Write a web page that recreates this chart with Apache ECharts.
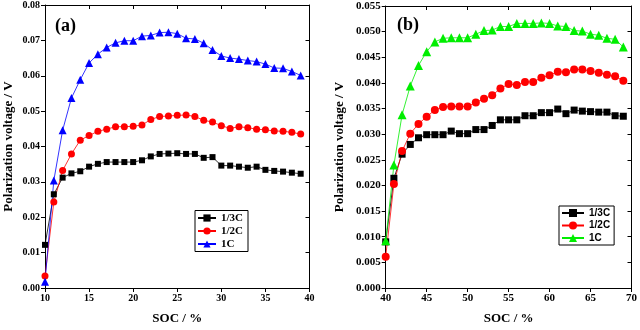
<!DOCTYPE html>
<html><head><meta charset="utf-8">
<script src="https://cdn.jsdelivr.net/npm/echarts@6/dist/echarts.min.js"></script>
<style>html,body{margin:0;padding:0;background:#fff}#c{width:640px;height:330px}</style>
</head><body><div id="c"></div>
<script>
const socA = [10,11,12,13,14,15,16,17,18,19,20,21,22,23,24,25,26,27,28,29,30,31,32,33,34,35,36,37,38,39];
const a13 = [0.0122,0.0265,0.0312,0.0324,0.0330,0.0343,0.0351,0.0356,0.0356,0.0356,0.0356,0.0361,0.0372,0.0379,0.0380,0.0381,0.0379,0.0379,0.0368,0.0370,0.0346,0.0346,0.0343,0.0340,0.0343,0.0334,0.0331,0.0329,0.0326,0.0323];
const a12 = [0.0034,0.0243,0.0332,0.0379,0.0418,0.0431,0.0443,0.0449,0.0456,0.0456,0.0457,0.0461,0.0476,0.0485,0.0486,0.0488,0.0489,0.0485,0.0474,0.0469,0.0459,0.0451,0.0456,0.0453,0.0449,0.0447,0.0444,0.0443,0.0440,0.0435];
const a1 = [0.0018,0.0304,0.0446,0.0537,0.0589,0.0636,0.0661,0.0680,0.0693,0.0699,0.0699,0.0712,0.0714,0.0722,0.0723,0.0719,0.0706,0.0704,0.0692,0.0673,0.0656,0.0650,0.0647,0.0643,0.0640,0.0633,0.0622,0.0621,0.0612,0.0601];
const socB = [40,41,42,43,44,45,46,47,48,49,50,51,52,53,54,55,56,57,58,59,60,61,62,63,64,65,66,67,68,69];
const b13 = [0.0090,0.0214,0.0261,0.0280,0.0293,0.0299,0.0299,0.0299,0.0306,0.0301,0.0301,0.0309,0.0309,0.0317,0.0328,0.0328,0.0328,0.0336,0.0336,0.0342,0.0342,0.0349,0.0340,0.0347,0.0345,0.0344,0.0343,0.0343,0.0336,0.0335];
const b12 = [0.0061,0.0203,0.0267,0.0301,0.0320,0.0334,0.0347,0.0353,0.0354,0.0354,0.0354,0.0362,0.0369,0.0376,0.0389,0.0398,0.0396,0.0402,0.0402,0.0410,0.0415,0.0422,0.0421,0.0426,0.0426,0.0423,0.0420,0.0416,0.0413,0.0404];
const b1 = [0.0092,0.0240,0.0338,0.0394,0.0434,0.0461,0.0480,0.0487,0.0488,0.0488,0.0488,0.0495,0.0502,0.0503,0.0510,0.0510,0.0516,0.0516,0.0516,0.0517,0.0516,0.0511,0.0510,0.0502,0.0501,0.0495,0.0493,0.0487,0.0485,0.0470];
const names = ['1/3C','1/2C','1C'];
const xTitle = 'SOC / %';
const yTitle = 'Polarization voltage / V';

const pair = (xs, ys) => xs.map((x, i) => [x, ys[i]]);
const serif = '"Liberation Serif","Times New Roman",serif';
const sans = '"Liberation Sans",Arial,sans-serif';

function baseX(grid, min, max, fs, show) {
  return {
    type: 'value', gridIndex: grid, min: min, max: max, interval: 5,
    position: show ? 'bottom' : 'top',
    name: show ? xTitle : '', nameLocation: 'middle', nameGap: 24,
    nameTextStyle: {fontFamily: serif, fontWeight: 'bold', fontSize: 13, color: '#000'},
    axisLine: {show: true, onZero: false, lineStyle: {color: '#000', width: 1}},
    axisTick: {show: true, inside: !show, length: 4, lineStyle: {color: '#000'}},
    axisLabel: {show: show, fontFamily: serif, fontWeight: 'bold', fontSize: fs, color: '#000', margin: 5},
    splitLine: {show: false}
  };
}
function baseY(grid, max, interval, dec, fs, show, gap) {
  return {
    type: 'value', gridIndex: grid, min: 0, max: max, interval: interval,
    position: show ? 'left' : 'right',
    name: show ? yTitle : '', nameLocation: 'middle', nameGap: gap,
    nameTextStyle: {fontFamily: serif, fontWeight: 'bold', fontSize: 13, color: '#000'},
    axisLine: {show: true, onZero: false, lineStyle: {color: '#000', width: 1}},
    axisTick: {show: true, inside: !show, length: 4, lineStyle: {color: '#000'}},
    axisLabel: {show: show, fontFamily: serif, fontWeight: 'bold', fontSize: fs, color: '#000', margin: 5,
      formatter: v => v.toFixed(dec)},
    splitLine: {show: false}
  };
}
function ser(name, data, xi, yi, color, symbol, size) {
  return {
    type: 'line', name: name, data: data, xAxisIndex: xi, yAxisIndex: yi,
    symbol: symbol, symbolSize: size, showSymbol: true,
    lineStyle: {color: color, width: 0.8}, itemStyle: {color: color},
    emphasis: {disabled: true}, animation: false, z: 3
  };
}

const chart = echarts.init(document.getElementById('c'), null, {renderer: 'canvas'});
chart.setOption({
  backgroundColor: '#fff',
  animation: false,
  grid: [
    {left: 45, top: 5, width: 264.5, height: 287.3},
    {left: 385.7, top: 6, width: 249.3, height: 286.3}
  ],
  xAxis: [baseX(0, 10, 40, 10, true), baseX(0, 10, 40, 10, false), baseX(1, 40, 70, 11, true), baseX(1, 40, 70, 11, false)],
  yAxis: [baseY(0, 0.08, 0.01, 2, 10, true, 30), baseY(0, 0.08, 0.01, 2, 10, false, 0),
          baseY(1, 0.055, 0.005, 3, 11, true, 40), baseY(1, 0.055, 0.005, 3, 11, false, 0)],
  legend: [
    {data: names, orient: 'vertical', left: 195, top: 210.5, itemWidth: 18, itemHeight: 9, itemGap: 2,
     padding: [2, 5, 2, 2], borderColor: '#000', borderWidth: 1, selectedMode: false,
     textStyle: {fontFamily: serif, fontWeight: 'bold', fontSize: 11, color: '#000'}},
    {data: names.map(n => n + ' (b)'), orient: 'vertical', left: 559, top: 206, itemWidth: 22, itemHeight: 10, itemGap: 2.5,
     padding: [2, 4, 2, 2], borderColor: '#000', borderWidth: 1, selectedMode: false,
     formatter: n => n.replace(' (b)', ''),
     textStyle: {fontFamily: sans, fontWeight: 'bold', fontSize: 10, color: '#000'}}
  ],
  series: [
    ser(names[0], pair(socA, a13), 0, 0, '#000000', 'rect', 6),
    ser(names[1], pair(socA, a12), 0, 0, '#ff0000', 'circle', 7),
    ser(names[2], pair(socA, a1), 0, 0, '#0000ff', 'triangle', 8),
    ser(names[0] + ' (b)', pair(socB, b13), 2, 2, '#000000', 'rect', 7),
    ser(names[1] + ' (b)', pair(socB, b12), 2, 2, '#ff0000', 'circle', 8),
    ser(names[2] + ' (b)', pair(socB, b1), 2, 2, '#00ee00', 'triangle', 9)
  ],
  graphic: [
    {type: 'text', left: 55, top: 17, style: {text: '(a)', font: 'bold 18px ' + serif, fill: '#000'}},
    {type: 'text', left: 397, top: 16, style: {text: '(b)', font: 'bold 18px ' + serif, fill: '#000'}}
  ]
});
</script>
</body></html>
